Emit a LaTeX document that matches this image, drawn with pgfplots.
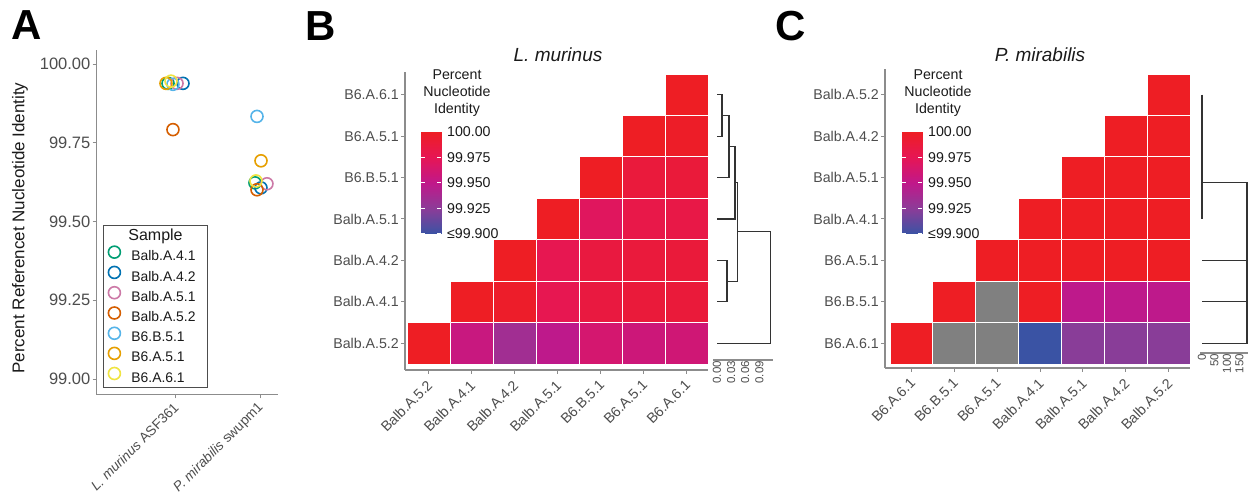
\documentclass[border=0pt]{standalone}
\usepackage{fontspec}
\setmainfont{Liberation Sans}
\usepackage{pgfplots}
\pgfplotsset{compat=1.18}

\definecolor{okGreen}{HTML}{009E73}
\definecolor{okBlue}{HTML}{0072B2}
\definecolor{okPink}{HTML}{CC79A7}
\definecolor{okVerm}{HTML}{D55E00}
\definecolor{okSky}{HTML}{56B4E9}
\definecolor{okOrange}{HTML}{E69F00}
\definecolor{okYellow}{HTML}{F0E442}
\definecolor{TickText}{HTML}{4D4D4D}
\definecolor{DarkText}{HTML}{1A1A1A}
\definecolor{AxisGray}{HTML}{8C8C8C}
\definecolor{TreeColor}{HTML}{333333}

\pgfplotsset{
    colormap={pni}{rgb255=(58,83,164) rgb255=(140,60,152) rgb255=(192,24,138) rgb255=(230,22,85) rgb255=(238,30,36)},
    circleleg/.style={legend image code/.code={\draw[##1] plot coordinates {(0pt,4.5pt)};}},
    samplepts/.style={only marks, mark=o, mark size=6pt, line width=1.6pt, color=#1},
    dendline/.style={draw=TreeColor, line width=1.1pt, no markers},
    heatcells/.style={patch, patch type=rectangle, shader=faceted, faceted color=white,
        line width=0.8pt, point meta=explicit},
    heatmap/.style={
        anchor=south west, scale only axis,
        xmin=#1, xmax=7,
        axis x line*=bottom, axis y line*=left,
        axis line style={AxisGray, line width=1.2pt},
        tick style={AxisGray, line width=1pt},
        tick align=outside, major tick length=4pt,
        xtick={0.5,1.5,2.5,3.5,4.5,5.5,6.5},
        ytick={0.5,1.5,2.5,3.5,4.5,5.5,6.5},
        ticklabel style={text=TickText, font=\fontsize{14.2}{16}\selectfont},
        xticklabel style={rotate=45, anchor=east, inner sep=1pt, xshift=-4.2pt, yshift=-7.1pt},
        yticklabel style={inner sep=1pt, xshift=-1pt},
        colormap name=pni, point meta min=99.9, point meta max=100,
    },
    pnibar/.style={
        anchor=south west, scale only axis, width=20pt, height=102pt,
        xmin=0, xmax=1, ymin=99.9, ymax=100,
        xtick=\empty,
        ytick={99.9,99.925,99.95,99.975,100},
        yticklabels={≤99.900,99.925,99.950,99.975,100.00},
        ytick pos=both, yticklabel pos=right,
        tick align=inside, major tick length=4pt,
        tick style={white, line width=1pt},
        axis line style={draw=none}, axis on top,
        yticklabel style={font=\fontsize{14.2}{16}\selectfont, text=DarkText, inner sep=1pt, xshift=5pt},
        colormap name=pni, point meta min=99.9, point meta max=100,
    },
    dendro/.style={
        anchor=south west, scale only axis,
        axis x line*=bottom, axis y line=none, ytick=\empty,
        axis line style={AxisGray, line width=1.2pt},
        major tick length=0pt,
        xticklabel style={rotate=90, anchor=east, inner sep=1pt, text=TickText,
            font=\fontsize{11.5}{13}\selectfont},
    },
}

\begin{document}
\begin{tikzpicture}
\useasboundingbox (0,0) rectangle (1254pt,497pt);

% ---------------- Panel A: identity to reference ----------------
\begin{axis}[
    at={(96pt,102pt)}, anchor=south west, scale only axis,
    width=182pt, height=345pt,
    xmin=0.0706, xmax=2.212, ymin=98.949, ymax=100.045,
    axis x line*=bottom, axis y line*=left,
    axis line style={AxisGray, line width=1pt},
    tick style={AxisGray, line width=0.8pt},
    tick align=outside, major tick length=3.5pt,
    xtick={1,2},
    xticklabels={\textit{L. murinus} ASF361,\textit{P. mirabilis} swupm1},
    ytick={99,99.25,99.5,99.75,100},
    yticklabels={99.00,99.25,99.50,99.75,100.00},
    xticklabel style={rotate=45, anchor=east, inner sep=1pt, xshift=-2.8pt, yshift=-5.6pt,
        text=TickText, font=\fontsize{13.7}{15}\selectfont},
    yticklabel style={inner sep=1pt, xshift=-1pt,
        text=TickText, font=\fontsize{16.5}{18}\selectfont},
    ylabel={Percent Referencet Nucleotide Identity},
    ylabel style={at={(axis description cs:-0.418,0.484)}, anchor=center,
        text=DarkText, font=\fontsize{17}{19}\selectfont},
    circleleg,
    legend cell align=left,
    legend style={
        at={(0.0385,0.0203)}, anchor=south west,
        draw=TickText, line width=0.8pt, fill=white,
        font=\fontsize{13.9}{16}\selectfont, text=DarkText,
        row sep=3pt, inner xsep=5pt, inner ysep=3pt,
        nodes={inner sep=1pt},
        /tikz/every odd column/.append style={column sep=10pt},
    },
]
\addlegendimage{empty legend}
\addlegendentry{\fontsize{16}{18}\selectfont\hspace*{-3pt}Sample\rule[-5.5pt]{0pt}{5pt}}

\addplot[samplepts=okGreen] coordinates {(0.918,99.939) (1.941,99.623)};
\addlegendentry{Balb.A.4.1}
\addplot[samplepts=okBlue] coordinates {(1.094,99.939) (2.012,99.607)};
\addlegendentry{Balb.A.4.2\hspace*{6pt}}
\addplot[samplepts=okPink] coordinates {(1.024,99.939) (2.082,99.620)};
\addlegendentry{Balb.A.5.1}
\addplot[samplepts=okVerm] coordinates {(0.976,99.792) (1.965,99.601)};
\addlegendentry{Balb.A.5.2}
\addplot[samplepts=okSky] coordinates {(0.976,99.936) (1.965,99.834)};
\addlegendentry{B6.B.5.1}
\addplot[samplepts=okOrange] coordinates {(0.894,99.939) (2.012,99.693)};
\addlegendentry{B6.A.5.1}
\addplot[samplepts=okYellow] coordinates {(0.953,99.946) (1.953,99.629)};
\addlegendentry{B6.A.6.1}
\end{axis}

% ---------------- Panel B: L. murinus heatmap ----------------
\begin{axis}[
    heatmap=-0.047,
    at={(405pt,127pt)}, width=303pt, height=298pt,
    ymin=-0.145, ymax=7.048,
    xticklabels={Balb.A.5.2,Balb.A.4.1,Balb.A.4.2,Balb.A.5.1,B6.B.5.1,B6.A.5.1,B6.A.6.1},
    yticklabels={Balb.A.5.2,Balb.A.4.1,Balb.A.4.2,Balb.A.5.1,B6.B.5.1,B6.A.5.1,B6.A.6.1},
]
\addplot[heatcells] table[row sep=\\, meta=c] {
x y c\\
0 0 100.000\\ 1 0 100.000\\ 1 1 100.000\\ 0 1 100.000\\
1 0 99.955\\ 2 0 99.955\\ 2 1 99.955\\ 1 1 99.955\\
2 0 99.935\\ 3 0 99.935\\ 3 1 99.935\\ 2 1 99.935\\
3 0 99.949\\ 4 0 99.949\\ 4 1 99.949\\ 3 1 99.949\\
4 0 99.963\\ 5 0 99.963\\ 5 1 99.963\\ 4 1 99.963\\
5 0 99.958\\ 6 0 99.958\\ 6 1 99.958\\ 5 1 99.958\\
6 0 99.960\\ 7 0 99.960\\ 7 1 99.960\\ 6 1 99.960\\
1 1 100.000\\ 2 1 100.000\\ 2 2 100.000\\ 1 2 100.000\\
2 1 99.997\\ 3 1 99.997\\ 3 2 99.997\\ 2 2 99.997\\
3 1 99.977\\ 4 1 99.977\\ 4 2 99.977\\ 3 2 99.977\\
4 1 99.986\\ 5 1 99.986\\ 5 2 99.986\\ 4 2 99.986\\
5 1 99.989\\ 6 1 99.989\\ 6 2 99.989\\ 5 2 99.989\\
6 1 99.989\\ 7 1 99.989\\ 7 2 99.989\\ 6 2 99.989\\
2 2 100.000\\ 3 2 100.000\\ 3 3 100.000\\ 2 3 100.000\\
3 2 99.977\\ 4 2 99.977\\ 4 3 99.977\\ 3 3 99.977\\
4 2 99.986\\ 5 2 99.986\\ 5 3 99.986\\ 4 3 99.986\\
5 2 99.988\\ 6 2 99.988\\ 6 3 99.988\\ 5 3 99.988\\
6 2 99.989\\ 7 2 99.989\\ 7 3 99.989\\ 6 3 99.989\\
3 3 100.000\\ 4 3 100.000\\ 4 4 100.000\\ 3 4 100.000\\
4 3 99.971\\ 5 3 99.971\\ 5 4 99.971\\ 4 4 99.971\\
5 3 99.981\\ 6 3 99.981\\ 6 4 99.981\\ 5 4 99.981\\
6 3 99.982\\ 7 3 99.982\\ 7 4 99.982\\ 6 4 99.982\\
4 4 100.000\\ 5 4 100.000\\ 5 5 100.000\\ 4 5 100.000\\
5 4 99.988\\ 6 4 99.988\\ 6 5 99.988\\ 5 5 99.988\\
6 4 99.989\\ 7 4 99.989\\ 7 5 99.989\\ 6 5 99.989\\
5 5 100.000\\ 6 5 100.000\\ 6 6 100.000\\ 5 6 100.000\\
6 5 99.998\\ 7 5 99.998\\ 7 6 99.998\\ 6 6 99.998\\
6 6 100.000\\ 7 6 100.000\\ 7 7 100.000\\ 6 7 100.000\\
};
\end{axis}

% colour key B
\begin{axis}[pnibar, at={(421pt,263pt)}]
\addplot[patch, patch type=rectangle, shader=interp, point meta=y]
    coordinates {(0,99.9) (1,99.9) (1,100) (0,100)};
\end{axis}

% dendrogram B
\begin{axis}[
    dendro,
    at={(713pt,137pt)}, width=60pt, height=288pt,
    xmin=-0.0085, xmax=0.119, ymin=0.0966, ymax=7.048,
    xtick={0,0.03,0.06,0.09}, xticklabels={0.00,0.03,0.06,0.09},
]
\addplot[dendline] coordinates {(0,6.5) (0.0106,6.5) (0.0106,5.5) (0,5.5)};
\addplot[dendline] coordinates {(0.0106,6.0) (0.0255,6.0) (0.0255,4.5) (0,4.5)};
\addplot[dendline] coordinates {(0.0255,5.25) (0.0383,5.25) (0.0383,3.5) (0,3.5)};
\addplot[dendline] coordinates {(0,2.5) (0.0213,2.5) (0.0213,1.5) (0,1.5)};
\addplot[dendline] coordinates {(0.0383,4.375) (0.0426,4.375) (0.0426,2.0) (0.0213,2.0)};
\addplot[dendline] coordinates {(0.0426,3.1875) (0.1128,3.1875) (0.1128,0.5) (0,0.5)};
\end{axis}

% ---------------- Panel C: P. mirabilis heatmap ----------------
\begin{axis}[
    heatmap=-0.117,
    at={(885pt,129pt)}, width=305pt, height=299pt,
    ymin=-0.0966, ymax=7.12,
    xticklabels={B6.A.6.1,B6.B.5.1,B6.A.5.1,Balb.A.4.1,Balb.A.5.1,Balb.A.4.2,Balb.A.5.2},
    yticklabels={B6.A.6.1,B6.B.5.1,B6.A.5.1,Balb.A.4.1,Balb.A.5.1,Balb.A.4.2,Balb.A.5.2},
]
\addplot[heatcells] table[row sep=\\, meta=c] {
x y c\\
0 0 100.000\\ 1 0 100.000\\ 1 1 100.000\\ 0 1 100.000\\
3 0 99.900\\ 4 0 99.900\\ 4 1 99.900\\ 3 1 99.900\\
4 0 99.924\\ 5 0 99.924\\ 5 1 99.924\\ 4 1 99.924\\
5 0 99.924\\ 6 0 99.924\\ 6 1 99.924\\ 5 1 99.924\\
6 0 99.924\\ 7 0 99.924\\ 7 1 99.924\\ 6 1 99.924\\
1 1 100.000\\ 2 1 100.000\\ 2 2 100.000\\ 1 2 100.000\\
3 1 100.000\\ 4 1 100.000\\ 4 2 100.000\\ 3 2 100.000\\
4 1 99.949\\ 5 1 99.949\\ 5 2 99.949\\ 4 2 99.949\\
5 1 99.949\\ 6 1 99.949\\ 6 2 99.949\\ 5 2 99.949\\
6 1 99.949\\ 7 1 99.949\\ 7 2 99.949\\ 6 2 99.949\\
2 2 100.000\\ 3 2 100.000\\ 3 3 100.000\\ 2 3 100.000\\
3 2 100.000\\ 4 2 100.000\\ 4 3 100.000\\ 3 3 100.000\\
4 2 100.000\\ 5 2 100.000\\ 5 3 100.000\\ 4 3 100.000\\
5 2 100.000\\ 6 2 100.000\\ 6 3 100.000\\ 5 3 100.000\\
6 2 100.000\\ 7 2 100.000\\ 7 3 100.000\\ 6 3 100.000\\
3 3 100.000\\ 4 3 100.000\\ 4 4 100.000\\ 3 4 100.000\\
4 3 100.000\\ 5 3 100.000\\ 5 4 100.000\\ 4 4 100.000\\
5 3 100.000\\ 6 3 100.000\\ 6 4 100.000\\ 5 4 100.000\\
6 3 100.000\\ 7 3 100.000\\ 7 4 100.000\\ 6 4 100.000\\
4 4 100.000\\ 5 4 100.000\\ 5 5 100.000\\ 4 5 100.000\\
5 4 100.000\\ 6 4 100.000\\ 6 5 100.000\\ 5 5 100.000\\
6 4 100.000\\ 7 4 100.000\\ 7 5 100.000\\ 6 5 100.000\\
5 5 100.000\\ 6 5 100.000\\ 6 6 100.000\\ 5 6 100.000\\
6 5 100.000\\ 7 5 100.000\\ 7 6 100.000\\ 6 6 100.000\\
6 6 100.000\\ 7 6 100.000\\ 7 7 100.000\\ 6 7 100.000\\
};
% missing comparisons (NA), drawn grey with their own flat colormap
\addplot[heatcells, colormap={nagray}{rgb255=(128,128,128) rgb255=(128,128,128)}]
    table[row sep=\\, meta=c] {
x y c\\
1 0 0\\ 2 0 0\\ 2 1 0\\ 1 1 0\\
2 0 0\\ 3 0 0\\ 3 1 0\\ 2 1 0\\
2 1 0\\ 3 1 0\\ 3 2 0\\ 2 2 0\\
};
\end{axis}

% colour key C
\begin{axis}[pnibar, at={(902pt,263pt)}]
\addplot[patch, patch type=rectangle, shader=interp, point meta=y]
    coordinates {(0,99.9) (1,99.9) (1,100) (0,100)};
\end{axis}

% dendrogram C
\begin{axis}[
    dendro,
    at={(1200pt,144pt)}, width=48pt, height=281pt,
    xmin=-8, xmax=184, ymin=0.2655, ymax=7.048,
    xtick={0,50,100,150}, xticklabels={0,50,100,150},
]
\addplot[dendline] coordinates {(0,6.5) (0,3.5)};
\addplot[dendline] coordinates {(0,4.375) (180,4.375) (180,2.5) (0,2.5)};
\addplot[dendline] coordinates {(180,2.5) (180,1.5) (0,1.5)};
\addplot[dendline] coordinates {(180,1.5) (180,0.5) (0,0.5)};
\end{axis}

% titles and panel letters
\node[font=\fontsize{42}{42}\selectfont\bfseries] at (27pt,472pt) {A};
\node[font=\fontsize{42}{42}\selectfont\bfseries] at (321pt,471pt) {B};
\node[font=\fontsize{42}{42}\selectfont\bfseries] at (791pt,471pt) {C};
\node[font=\fontsize{19}{21}\selectfont\itshape, text=DarkText] at (558pt,442pt) {L. murinus};
\node[font=\fontsize{19}{21}\selectfont\itshape, text=DarkText] at (1040pt,442pt) {P. mirabilis};
\node[font=\fontsize{14.2}{17}\selectfont, text=DarkText, align=center] at (457pt,404pt) {Percent\\Nucleotide\\Identity};
\node[font=\fontsize{14.2}{17}\selectfont, text=DarkText, align=center] at (938pt,404pt) {Percent\\Nucleotide\\Identity};
\end{tikzpicture}
\end{document}
